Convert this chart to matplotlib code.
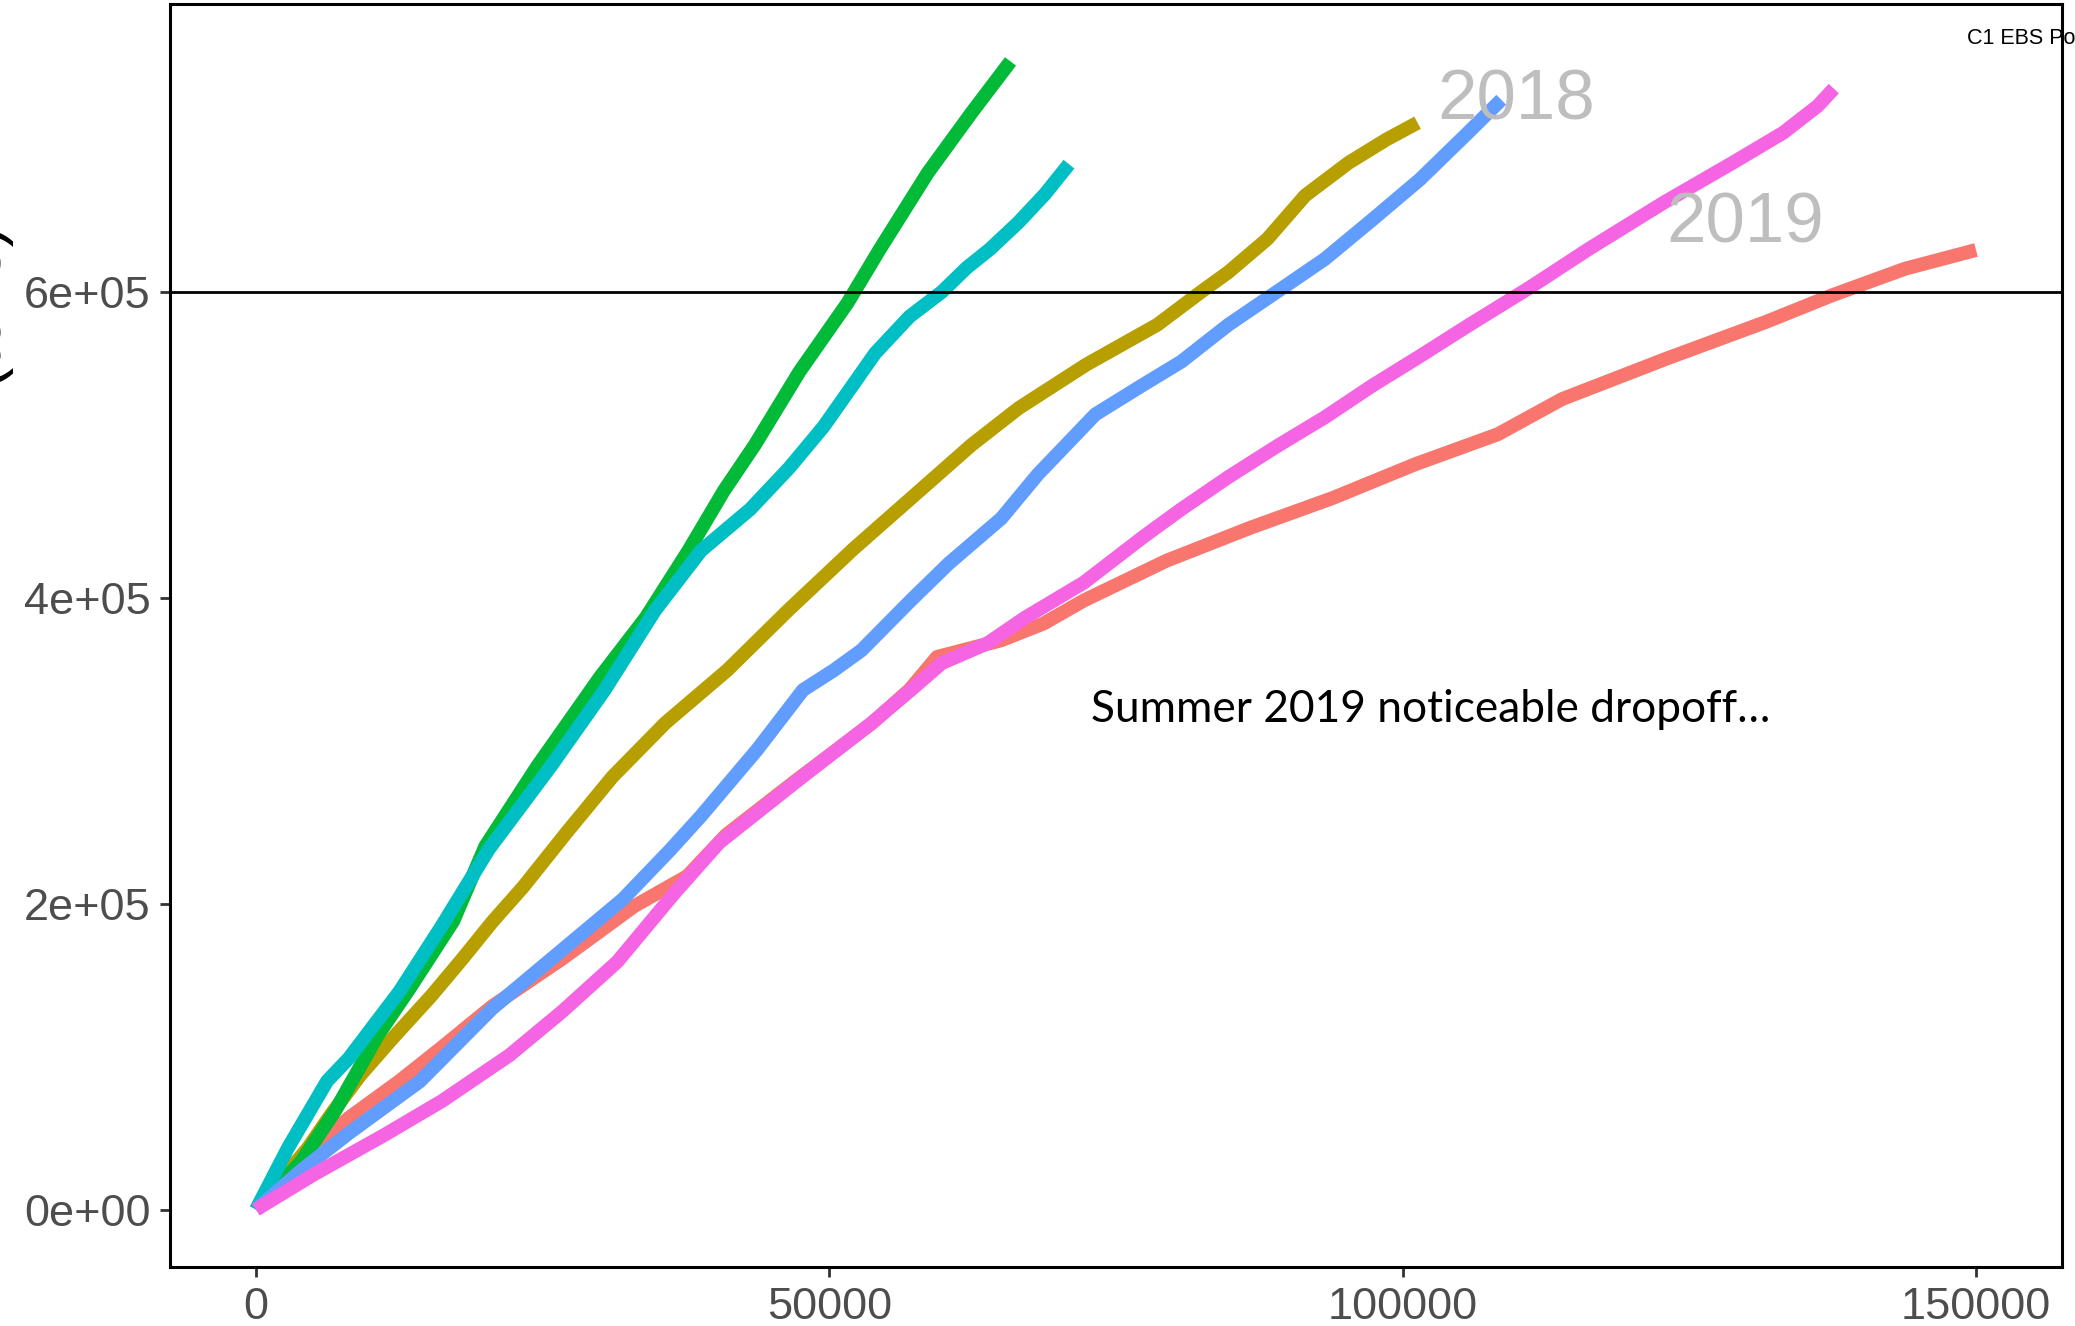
import matplotlib
matplotlib.use('Agg')
import matplotlib.pyplot as plt

## DATA

red_x = [0, 4000, 8100, 12500, 16200, 20600, 26700, 33000, 37600, 41000, 47000, 53700, 57000,
         59400, 65000, 68700, 72200, 79400, 86700, 93900, 101100, 108300, 113900, 123100,
         131700, 137500, 143800, 150000]
red_y = [0, 33000, 60000, 84000, 106000, 133000, 164000, 198500, 218000, 245000, 280000, 318000,
         340000, 361400, 372300, 383300, 398300, 424300, 445800, 465300, 487400, 507000, 530000,
         556700, 580500, 598000, 615200, 627500]

olive_x = [0, 4500, 6500, 9100, 11900, 15300, 18000, 20600, 23300, 27100, 31100, 35700, 41100,
           46400, 52100, 57100, 62400, 66500, 72400, 78600, 82400, 84800, 88200, 91500, 95300,
           98600, 101300]
olive_y = [0, 40000, 61800, 87900, 111900, 139900, 164000, 188100, 211000, 246700, 283100, 318200,
           352700, 391800, 432000, 465000, 500000, 524000, 552500, 578600, 600000, 613000, 634700,
           663100, 684600, 699800, 710700]

green_x = [0, 3900, 6900, 10600, 13400, 17200, 20000, 24500, 30000, 34000, 37700, 40800, 43500,
           47400, 51600, 54400, 58600, 62400, 65800]
green_y = [0, 31000, 64600, 113700, 144600, 188600, 237600, 289600, 348200, 387200, 430800,
           470000, 500000, 548000, 593000, 628000, 678100, 717200, 750800]

cyan_x = [0, 2800, 6200, 8100, 12500, 16200, 20300, 25700, 30400, 34800, 38800, 43100, 46500,
          49500, 54000, 57000, 59800, 62000, 64000, 66500, 68800, 70900]
cyan_y = [0, 40500, 84000, 99000, 142500, 185500, 235600, 289800, 339700, 391800, 430800, 458000,
          485000, 512000, 560000, 584000, 600000, 616000, 628000, 645600, 664000, 683600]

blue_x = [0, 4000, 8100, 14300, 20600, 26100, 32000, 36100, 38800, 43700, 47700, 50400, 52800,
          57100, 60400, 65000, 68200, 73200, 77400, 80700, 84800, 89000, 93200, 97400, 101500,
          105700, 108600]
blue_y = [0, 26000, 50000, 83900, 131500, 166000, 203000, 235000, 257300, 300700, 339700, 352700,
          365700, 398300, 422400, 452000, 480900, 520000, 539500, 554500, 578600, 600000, 621500,
          647600, 673600, 704200, 725700]

pink_x = [0, 5000, 11200, 16200, 22100, 26700, 31500, 33500, 36500, 40400, 47000, 53700, 57100,
          59800, 63800, 67100, 72200, 77400, 80700, 84800, 89000, 93200, 97400, 101500, 105700,
          111100, 116200, 122800, 128800, 133200, 136200, 137600]
pink_y = [0, 22800, 48800, 70900, 100900, 129500, 162000, 180000, 207000, 240000, 279200, 318200,
          339700, 357300, 370300, 387200, 410000, 440000, 458000, 479000, 499000, 518000, 539000,
          558000, 578000, 603000, 628000, 658600, 684600, 704200, 721700, 733000]

# ggplot default hue palette, drawn in group order
series = [(red_x, red_y, '#F8766D'),
          (olive_x, olive_y, '#B79F00'),
          (green_x, green_y, '#00BA38'),
          (cyan_x, cyan_y, '#00BFC4'),
          (blue_x, blue_y, '#619CFF'),
          (pink_x, pink_y, '#F564E3')]

x_ticks = [0, 50000, 100000, 150000]
y_ticks = [0, 200000, 400000, 600000]
y_tick_labels = ['0e+00', '2e+05', '4e+05', '6e+05']
ref_line = 600000

## PLOT

W, H = 2075, 1326
fig = plt.figure(figsize=(W / 100, H / 100), dpi=100)
ax = fig.add_axes([170 / W, 1 - 1267 / H, (2062 - 170) / W, (1267 - 4) / H])

for xs, ys, c in series:
    ax.plot(xs, ys, color=c, lw=10, solid_capstyle='butt', solid_joinstyle='round')

ax.axhline(ref_line, color='black', lw=2)

# ggplot-like 5% expansion
xmax = max(max(s[0]) for s in series)
ymax = max(max(s[1]) for s in series)
ax.set_xlim(-0.05 * xmax, 1.05 * xmax)
ax.set_ylim(-0.05 * ymax, 1.05 * ymax)

ax.set_xticks(x_ticks)
ax.set_xticklabels([str(v) for v in x_ticks])
ax.set_yticks(y_ticks)
ax.set_yticklabels(y_tick_labels)
ax.tick_params(length=7.2, width=2, color='#333333', labelcolor='#4D4D4D',
               labelsize=32.5, pad=7)
for lab in ax.get_xticklabels() + ax.get_yticklabels():
    lab.set_fontfamily('Liberation Sans')
for sp in ax.spines.values():
    sp.set_linewidth(2.2)
    sp.set_color('black')

# year labels
ax.text(103000, 712600, '2018', color='#BEBEBE', fontsize=51, family='Liberation Sans',
        ha='left', va='baseline')
ax.text(123000, 632600, '2019', color='#BEBEBE', fontsize=51, family='Liberation Sans',
        ha='left', va='baseline')

ax.text(72800, 318900, 'Summer 2019 noticeable dropoff\u2026', color='black', fontsize=31.9,
        family='Lato', ha='left', va='baseline')

# title, runs off the right edge of the figure
fig.text(1967 / W, 1 - 44 / H, 'C1 EBS Pollock', fontsize=15.5, family='Liberation Sans',
         ha='left', va='baseline', color='black')

# y axis title: baseline sits just off the left edge, only the paren tails show
fig.text(-3 / W, 1 - 303 / H, '(tons)', rotation=90, rotation_mode='anchor', fontsize=46,
         family='Liberation Sans', ha='center', va='baseline', color='black')

fig.savefig('out.png', dpi=100)
